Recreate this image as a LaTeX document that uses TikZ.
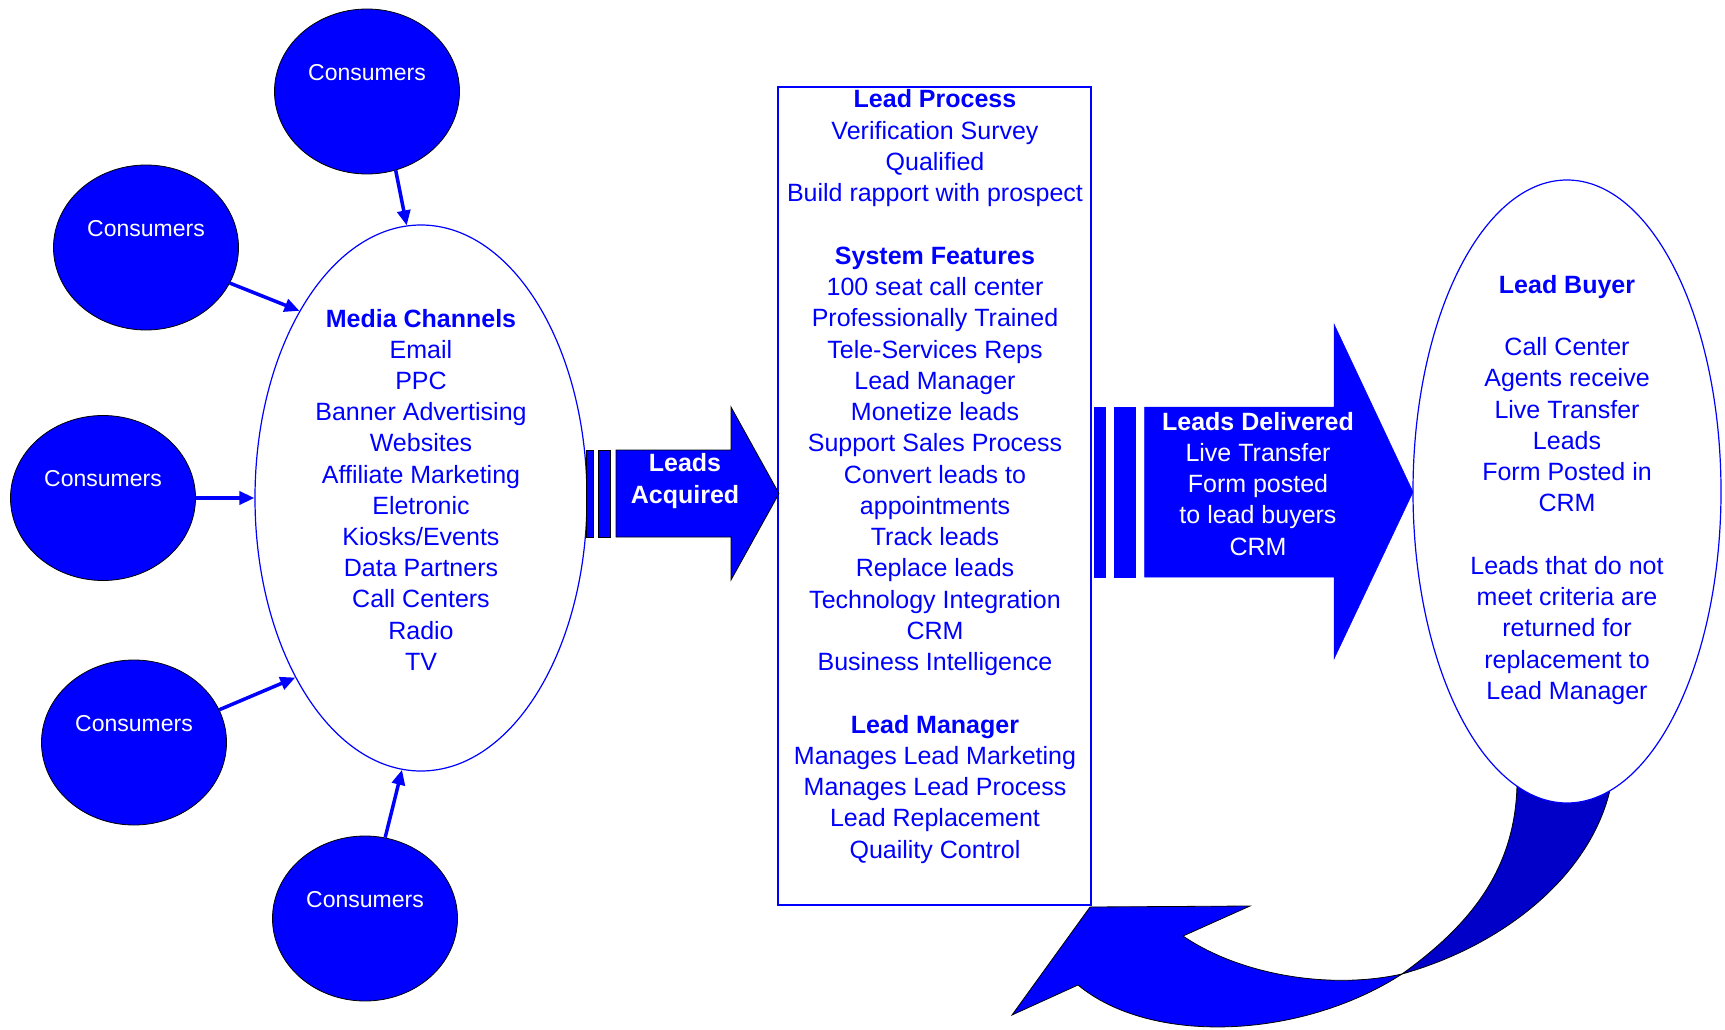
\documentclass[tikz,border=0pt]{standalone}
\usepackage{fontspec}
\setmainfont{Liberation Sans}
\usetikzlibrary{shapes.geometric,arrows.meta}
\definecolor{pblue}{RGB}{0,0,255}
\definecolor{dblue}{RGB}{0,0,200}
\begin{document}
\begin{tikzpicture}[x=1pt,y=-1pt,
  consumer/.style={ellipse, fill=pblue, draw=black, line width=0.8pt, minimum width=185pt, minimum height=165pt, inner sep=0pt},
  ctext/.style={text=white, font=\fontsize{23}{27}\selectfont, inner sep=0pt},
  conn/.style={draw=pblue, line width=3.5pt, -{Triangle[length=15pt,width=13pt]}},
  bigell/.style={ellipse, draw=pblue, fill=white, line width=1.2pt, inner sep=0pt},
  btext/.style={text=pblue, font=\fontsize{25}{30}\selectfont, anchor=base, inner sep=0pt},
  wtext/.style={text=white, font=\fontsize{25}{30}\selectfont, anchor=base, inner sep=0pt},
  blockarrow/.style={fill=pblue, draw=black, line width=0.8pt},
  flatarrow/.style={fill=pblue, draw=pblue, line width=0.5pt}
]
\useasboundingbox (0,0) rectangle (1725,1030);
\fill[white] (0,0) rectangle (1725,1030);

% central box
\node[draw=pblue, line width=1.6pt, fill=white, minimum width=313pt, minimum height=818pt, inner sep=0pt] (box) at (934.5,496) {};
\foreach \txt [count=\i from 0] in {
  \textbf{Lead Process}, Verification Survey, Qualified, Build rapport with prospect, {},
  \textbf{System Features}, 100 seat call center, Professionally Trained, Tele-Services Reps,
  Lead Manager, Monetize leads, Support Sales Process, Convert leads to, appointments,
  Track leads, Replace leads, Technology Integration, CRM, Business Intelligence, {},
  \textbf{Lead Manager}, Manages Lead Marketing, Manages Lead Process, Lead Replacement,
  Quaility Control}
  \node[btext] (bx\i) at (935,108+31.26*\i) {\txt};

% media channels ellipse
\node[bigell, minimum width=332pt, minimum height=546pt] (media) at (421,498) {};
\foreach \txt [count=\i from 0] in {
  \textbf{Media Channels}, Email, PPC, Banner Advertising, Websites, Affiliate Marketing,
  Eletronic, Kiosks/Events, Data Partners, Call Centers, Radio, TV}
  \node[btext] (md\i) at (421,327+31.2*\i) {\txt};

% consumers
\node[consumer] (c1) at (367,91.5) {};
\node[consumer] (c2) at (146,247.5) {};
\node[consumer] (c3) at (103,498) {};
\node[consumer] (c4) at (134,742.5) {};
\node[consumer] (c5) at (365,918.5) {};
\foreach \k in {1,...,5}
  \node[ctext] (c\k t) at ([yshift=19pt]c\k.center) {Consumers};

\draw[conn] (c1.-70) -- (media.93);
\draw[conn] (c2.-23) -- (media.123.5);
\draw[conn] (c3.0) -- (media.180);
\draw[conn] (c4.21) -- (media.235);
\draw[conn] (c5.76) -- (media.266);

% Leads Acquired arrow
\filldraw[blockarrow] (586,450) rectangle (593,537);
\filldraw[blockarrow] (598,450) rectangle (610,537);
\filldraw[blockarrow] (616,450) -- (731,450) -- (731,407) -- (779,493.5) -- (731,580) -- (731,537) -- (616,537) -- cycle;
\node[wtext] (la1) at (685,471) {\textbf{Leads}};
\node[wtext] (la2) at (685,503) {\textbf{Acquired}};

% Leads Delivered arrow
\filldraw[flatarrow] (1094,407) rectangle (1105.5,577);
\filldraw[flatarrow] (1114,407) rectangle (1135.5,577);
\filldraw[flatarrow] (1144.5,407) -- (1334,407) -- (1334,324) -- (1413,492) -- (1334,659) -- (1334,577) -- (1144.5,577) -- cycle;
\foreach \txt [count=\i from 0] in {\textbf{Leads Delivered}, Live Transfer, Form posted, to lead buyers, CRM}
  \node[wtext] (ld\i) at (1258,430+31.25*\i) {\txt};

% curved return arrow
\filldraw[fill=dblue, draw=black, line width=0.8pt]
  (1519,760) -- (1517,785) .. controls (1515,870) and (1470,925) .. (1402,974)
  .. controls (1505,945) and (1590,875) .. (1610,790) -- (1614,760) -- cycle;
\filldraw[fill=pblue, draw=black, line width=0.8pt]
  (1402,974) .. controls (1330,990) and (1240,975) .. (1183,936)
  -- (1250,906) -- (1090,907) -- (1012,1015) -- (1078,985)
  .. controls (1150,1045) and (1300,1040) .. (1402,974) -- cycle;

% lead buyer ellipse
\node[bigell, minimum width=308pt, minimum height=623pt] (buyer) at (1567,491.5) {};
\foreach \txt [count=\i from 0] in {
  \textbf{Lead Buyer}, {}, Call Center, Agents receive, Live Transfer, Leads, Form Posted in, CRM, {},
  Leads that do not, meet criteria are, returned for, replacement to, Lead Manager}
  \node[btext] (lb\i) at (1567,293+31.25*\i) {\txt};
\end{tikzpicture}
\end{document}
